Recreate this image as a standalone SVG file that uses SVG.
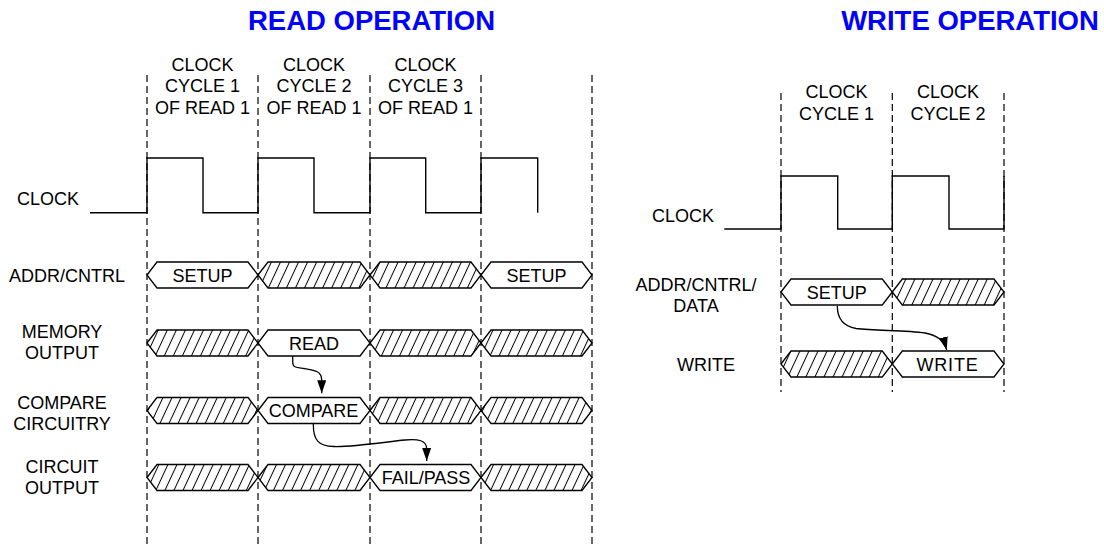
<svg xmlns="http://www.w3.org/2000/svg" width="1104" height="548" viewBox="0 0 1104 548">
<style>
text{font-family:"Liberation Sans",Arial,sans-serif;font-size:18px;fill:#000}
.t{font-size:27.5px;font-weight:bold;fill:#0000FF;text-anchor:middle}
.c{text-anchor:middle}
.dash{stroke:#000;stroke-width:1.2;stroke-dasharray:7 4;fill:none}
.sig{stroke:#000;stroke-width:1.4;fill:none}
.w{fill:#fff;stroke:#000;stroke-width:1.3}
.h{fill:url(#hatch);stroke:#000;stroke-width:1.3}
.arr{stroke:#000;stroke-width:1.3;fill:none;marker-end:url(#ah)}
</style>
<defs>
<pattern id="hatch" patternUnits="userSpaceOnUse" width="8.2" height="8.2" patternTransform="rotate(25)">
<rect width="8.2" height="8.2" fill="#fff"/>
<line x1="4.1" y1="-1" x2="4.1" y2="9.2" stroke="#000" stroke-width="1"/>
</pattern>
<marker id="ah" markerUnits="userSpaceOnUse" markerWidth="14" markerHeight="10" refX="13" refY="4.5" orient="auto">
<path d="M0,0 L13,4.5 L0,9 z" fill="#000"/>
</marker>
</defs>
<rect width="1104" height="548" fill="#fff"/>

<g id="titles">
<text class="t" x="371.5" y="30">READ OPERATION</text>
<text class="t" x="970" y="30">WRITE OPERATION</text>
</g>

<g id="read-grid">
<line class="dash" x1="147" y1="75" x2="147" y2="548"/>
<line class="dash" x1="258" y1="75" x2="258" y2="548"/>
<line class="dash" x1="370" y1="75" x2="370" y2="548"/>
<line class="dash" x1="481" y1="75" x2="481" y2="548"/>
<line class="dash" x1="592" y1="75" x2="592" y2="548"/>
<text class="c" x="202.5" y="70.5">CLOCK</text>
<text class="c" x="202.5" y="92">CYCLE 1</text>
<text class="c" x="202.5" y="113.5">OF READ 1</text>
<text class="c" x="314" y="70.5">CLOCK</text>
<text class="c" x="314" y="92">CYCLE 2</text>
<text class="c" x="314" y="113.5">OF READ 1</text>
<text class="c" x="425.5" y="70.5">CLOCK</text>
<text class="c" x="425.5" y="92">CYCLE 3</text>
<text class="c" x="425.5" y="113.5">OF READ 1</text>
</g>

<g id="read-clock">
<text x="17" y="205">CLOCK</text>
<path class="sig" d="M90,212.7 H147 V158 H203 V212.7 H258 V158 H314 V212.7 H370 V158 H425.7 V212.7 H481 V158 H537.7 V212.7"/>
</g>

<g id="read-addr">
<text x="9" y="282">ADDR/CNTRL</text>
<polygon class="w" points="147,275 157,262 248,262 258,275 248,288 157,288"/>
<polygon class="h" points="258,275 268,262 360,262 370,275 360,288 268,288"/>
<polygon class="h" points="370,275 380,262 471,262 481,275 471,288 380,288"/>
<polygon class="w" points="481,275 491,262 582,262 592,275 582,288 491,288"/>
<text class="c" x="202.5" y="282">SETUP</text>
<text class="c" x="536.5" y="282">SETUP</text>
</g>

<g id="read-memory">
<text class="c" x="62" y="338">MEMORY</text>
<text class="c" x="62" y="359">OUTPUT</text>
<polygon class="h" points="147,343 157,330 248,330 258,343 248,356 157,356"/>
<polygon class="w" points="258,343 268,330 360,330 370,343 360,356 268,356"/>
<polygon class="h" points="370,343 380,330 471,330 481,343 471,356 380,356"/>
<polygon class="h" points="481,343 491,330 582,330 592,343 582,356 491,356"/>
<text class="c" x="314" y="349.5">READ</text>
</g>

<g id="read-compare">
<text class="c" x="62" y="409">COMPARE</text>
<text class="c" x="62" y="430">CIRCUITRY</text>
<polygon class="h" points="147,410.5 157,397.5 248,397.5 258,410.5 248,423.5 157,423.5"/>
<polygon class="w" points="258,410.5 268,397.5 360,397.5 370,410.5 360,423.5 268,423.5"/>
<polygon class="h" points="370,410.5 380,397.5 471,397.5 481,410.5 471,423.5 380,423.5"/>
<polygon class="h" points="481,410.5 491,397.5 582,397.5 592,410.5 582,423.5 491,423.5"/>
<text class="c" x="313.5" y="417">COMPARE</text>
</g>

<g id="read-output">
<text class="c" x="62" y="472.5">CIRCUIT</text>
<text class="c" x="62" y="493.5">OUTPUT</text>
<polygon class="h" points="147,477.5 157,464.5 248,464.5 258,477.5 248,490.5 157,490.5"/>
<polygon class="h" points="258,477.5 268,464.5 360,464.5 370,477.5 360,490.5 268,490.5"/>
<polygon class="w" points="370,477.5 380,464.5 471,464.5 481,477.5 471,490.5 380,490.5"/>
<polygon class="h" points="481,477.5 491,464.5 582,464.5 592,477.5 582,490.5 491,490.5"/>
<text class="c" x="426" y="484">FAIL/PASS</text>
</g>

<g id="write-grid">
<line class="dash" x1="781" y1="93" x2="781" y2="392"/>
<line class="dash" x1="892.3" y1="93" x2="892.3" y2="392"/>
<line class="dash" x1="1004" y1="93" x2="1004" y2="392"/>
<text class="c" x="836.5" y="97.5">CLOCK</text>
<text class="c" x="836.5" y="120">CYCLE 1</text>
<text class="c" x="948" y="97.5">CLOCK</text>
<text class="c" x="948" y="120">CYCLE 2</text>
</g>

<g id="write-clock">
<text x="652" y="221.5">CLOCK</text>
<path class="sig" d="M724.3,229 H781 V176 H837.7 V229 H892.3 V176 H949 V229 H1004 V176"/>
</g>

<g id="write-addr">
<text class="c" x="696" y="290.5">ADDR/CNTRL/</text>
<text class="c" x="696" y="312">DATA</text>
<polygon class="w" points="781,292 791,279 882.3,279 892.3,292 882.3,305 791,305"/>
<polygon class="h" points="892.3,292 902.3,279 994,279 1004,292 994,305 902.3,305"/>
<text class="c" x="836.7" y="298.5">SETUP</text>
</g>

<g id="write-write">
<text class="c" x="706" y="371">WRITE</text>
<polygon class="h" points="781,364 791,351 882.3,351 892.3,364 882.3,377 791,377"/>
<polygon class="w" points="892.3,364 902.3,351 994,351 1004,364 994,377 902.3,377"/>
<text class="c" x="947.5" y="371" letter-spacing="0.8">WRITE</text>
</g>

<g id="connectors">
<path class="arr" d="M292.7,356 L292.7,362 C292.7,368 297,367.5 304,368.5 C314,370 321.7,371 321.7,380 L321.7,393.3"/>
<path class="arr" d="M313.3,424 C313.3,440 318,446 334,446.5 C355,447 385,442 405,440 C418,439 426.7,440 426.7,449 L426.7,461"/>
<path class="arr" d="M837.3,306 C837.3,318 842,326 856,328.5 C875,331 905,330 925,333 C937,335 944,340 946.7,350"/>
</g>
</svg>
